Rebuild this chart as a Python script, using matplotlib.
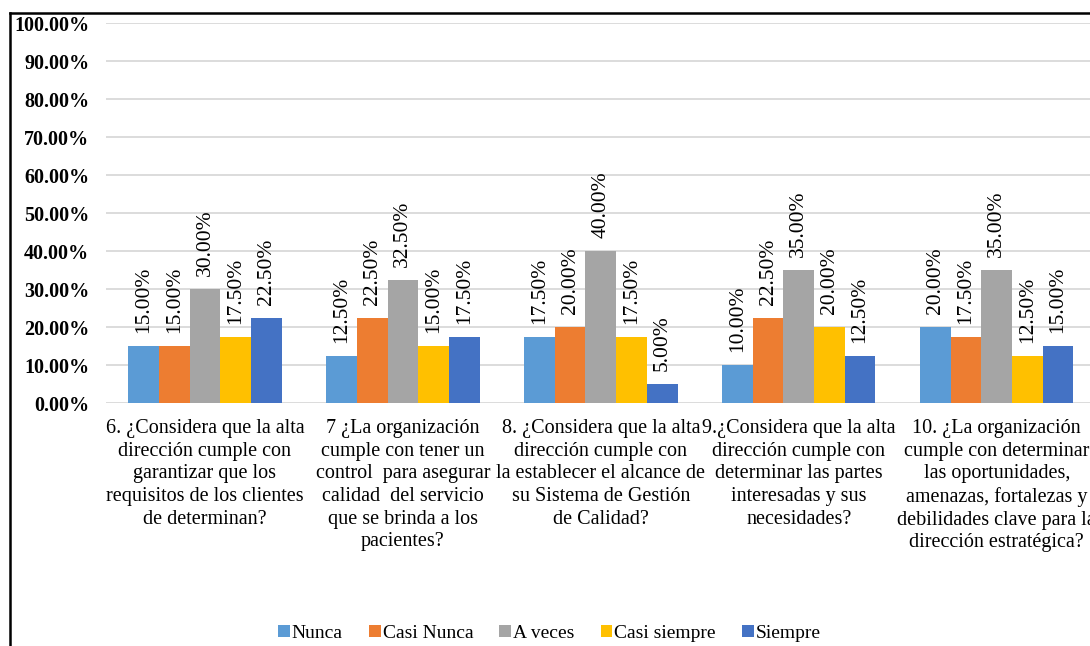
import matplotlib
matplotlib.use('Agg')
import matplotlib.pyplot as plt
from matplotlib.lines import Line2D
import numpy as np

plt.rcParams['font.family'] = ['Liberation Serif', 'DejaVu Serif']

categories = [
    '6. ¿Considera que la alta\ndirección cumple con\ngarantizar que los\nrequisitos de los clientes\nde determinan?',
    '7 ¿La organización\ncumple con tener un\ncontrol  para asegurar\ncalidad  del servicio\nque se brinda a los\npacientes?',
    '8. ¿Considera que la alta\ndirección cumple con\nla establecer el alcance de\nsu Sistema de Gestión\nde Calidad?',
    '9.¿Considera que la alta\ndirección cumple con\ndeterminar las partes\ninteresadas y sus\nnecesidades?',
    '10. ¿La organización\ncumple con determinar\nlas oportunidades,\namenazas, fortalezas y\ndebilidades clave para la\ndirección estratégica?',
]
series_names = ['Nunca', 'Casi Nunca', 'A veces', 'Casi siempre', 'Siempre']
nunca = [15.0, 12.5, 17.5, 10.0, 20.0]
casi_nunca = [15.0, 22.5, 20.0, 22.5, 17.5]
a_veces = [30.0, 32.5, 40.0, 35.0, 35.0]
casi_siempre = [17.5, 15.0, 17.5, 20.0, 12.5]
siempre = [22.5, 17.5, 5.0, 12.5, 15.0]
colors = ['#5B9BD5', '#ED7D31', '#A5A5A5', '#FFC000', '#4472C4']

values = [nunca, casi_nunca, a_veces, casi_siempre, siempre]

fig = plt.figure(figsize=(10.9, 6.46), dpi=100)
ax = fig.add_axes([0.0972, 0.376, 0.908, 0.588])

x = np.arange(len(categories))
bw = 0.155
for i, (name, vals, c) in enumerate(zip(series_names, values, colors)):
    pos = x + (i - 2) * bw
    ax.bar(pos, vals, width=bw, color=c, label=name, zorder=3)
    for p, v in zip(pos, vals):
        ax.text(p, v + 3.4, f'{v:.2f}%', rotation=90, ha='center', va='bottom',
                fontsize=15.5, zorder=4)

ax.set_xlim(-0.5, len(categories) - 0.5)
ax.set_ylim(0, 100)
ax.set_yticks(np.arange(0, 101, 10))
ax.set_yticklabels([f'{t:.2f}%' for t in np.arange(0, 101, 10)],
                   fontsize=14.5, fontweight='bold')
ax.set_xticks(x)
ax.set_xticklabels(categories, fontsize=14.5, linespacing=1.26)
ax.tick_params(axis='both', length=0)
ax.tick_params(axis='y', pad=12)
ax.tick_params(axis='x', pad=11.5)
ax.grid(axis='y', color='#D9D9D9', linewidth=1.3, zorder=0)
for s in ax.spines.values():
    s.set_visible(False)

# outer frame (left and top edges visible)
fig.add_artist(Line2D([0.0095, 0.0095], [0.0, 0.98], transform=fig.transFigure,
                      color='black', linewidth=1.8))
fig.add_artist(Line2D([0.0095, 1.0], [0.98, 0.98], transform=fig.transFigure,
                      color='black', linewidth=1.8))

fig.legend(loc='center', bbox_to_anchor=(0.504, 0.02), ncol=5, frameon=False,
           fontsize=14, handlelength=0.6, handleheight=0.6, handletextpad=0.1,
           columnspacing=1.35)

fig.savefig('out.png', dpi=100)
